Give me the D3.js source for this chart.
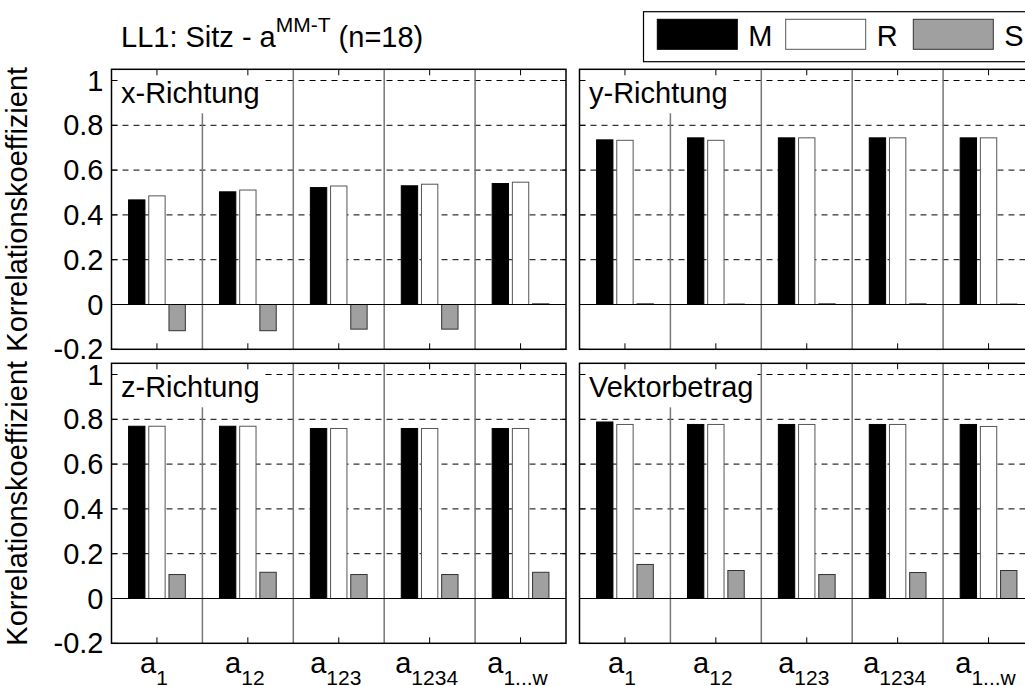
<!DOCTYPE html>
<html>
<head>
<meta charset="utf-8">
<script src="https://cdn.jsdelivr.net/npm/d3@7"></script>
<style>
  html, body { margin: 0; padding: 0; background: #fff; }
  svg { display: block; font-family: "Liberation Sans", Arial, sans-serif; }
</style>
</head>
<body>
<svg id="chart" width="1025" height="686"></svg>
<script>
// Correlation coefficients per direction, for the five acceleration combinations
const categories = ["1", "12", "123", "1234", "1...w"];
const seriesNames = ["M", "R", "S"];
const seriesFill = ["#000000", "#ffffff", "#a0a0a0"];
const seriesStroke = ["#000000", "#555555", "#333333"];
const yTicks = [-0.2, 0, 0.2, 0.4, 0.6, 0.8, 1];
const panelTitles = ["x-Richtung", "y-Richtung", "z-Richtung", "Vektorbetrag"];

const xRichtungM = [0.467, 0.503, 0.522, 0.530, 0.540];
const xRichtungR = [0.485, 0.511, 0.529, 0.537, 0.546];
const xRichtungS = [-0.117, -0.117, -0.110, -0.110, 0.003];

const yRichtungM = [0.735, 0.744, 0.744, 0.744, 0.744];
const yRichtungR = [0.733, 0.733, 0.744, 0.744, 0.744];
const yRichtungS = [0.003, 0.002, 0.003, 0.003, 0.002];

const zRichtungM = [0.769, 0.769, 0.759, 0.759, 0.759];
const zRichtungR = [0.769, 0.769, 0.759, 0.759, 0.759];
const zRichtungS = [0.107, 0.117, 0.107, 0.107, 0.117];

const vektorM = [0.788, 0.777, 0.777, 0.777, 0.777];
const vektorR = [0.777, 0.777, 0.777, 0.777, 0.768];
const vektorS = [0.152, 0.125, 0.107, 0.116, 0.125];

const panelValues = [
  [xRichtungM, xRichtungR, xRichtungS],
  [yRichtungM, yRichtungR, yRichtungS],
  [zRichtungM, zRichtungR, zRichtungS],
  [vektorM, vektorR, vektorS]
];

const svg = d3.select("#chart");
const FONT = 29;
const panelW = 454.5, panelH = 280;
const colX = [111.5, 579.5];
const rowY = [69.3, 363.3];
const tickLen = 6;

svg.append("rect").attr("width", 1025).attr("height", 686).attr("fill", "#fff");

panelValues.forEach((vals, p) => {
  const col = p % 2, row = Math.floor(p / 2);
  const left = colX[col], top = rowY[row];
  const right = left + panelW, bottom = top + panelH;

  const x0 = d3.scaleBand().domain(categories).range([left, right]).padding(0);
  const x1 = d3.scaleBand().domain(seriesNames).range([0, x0.bandwidth()])
    .paddingInner(0.19).paddingOuter(0.845);
  const y = d3.scaleLinear().domain([-0.2, 1.05]).range([bottom, top]);

  const clipId = "clip" + p;
  svg.append("clipPath").attr("id", clipId)
    .append("rect").attr("x", left).attr("y", top).attr("width", panelW).attr("height", panelH);
  const g = svg.append("g").attr("clip-path", `url(#${clipId})`);

  // dashed horizontal grid
  g.selectAll("line.grid").data(yTicks.filter(t => t > 0)).join("line")
    .attr("x1", left).attr("x2", right)
    .attr("y1", d => y(d)).attr("y2", d => y(d))
    .attr("stroke", "#000").attr("stroke-width", 1).attr("stroke-dasharray", "6,5");

  // group separators
  g.selectAll("line.sep").data(categories.slice(1)).join("line")
    .attr("x1", d => x0(d)).attr("x2", d => x0(d))
    .attr("y1", top).attr("y2", bottom)
    .attr("stroke", "#777").attr("stroke-width", 1.5);

  // bars
  seriesNames.forEach((s, si) => {
    g.selectAll(null).data(vals[si]).join("rect")
      .attr("x", (d, i) => x0(categories[i]) + x1(s))
      .attr("width", x1.bandwidth())
      .attr("y", d => y(Math.max(0, d)))
      .attr("height", d => Math.abs(y(d) - y(0)))
      .attr("fill", seriesFill[si])
      .attr("stroke", seriesStroke[si]).attr("stroke-width", 1);
  });

  // zero baseline
  g.append("line").attr("x1", left).attr("x2", right)
    .attr("y1", y(0)).attr("y2", y(0)).attr("stroke", "#000").attr("stroke-width", 1.2);

  // panel title with white backing box
  const tg = g.append("g");
  const txt = tg.append("text").attr("x", left + 9.5).attr("y", top + 34)
    .attr("font-size", FONT).attr("fill", "#000").text(panelTitles[p]);
  const bb = txt.node().getBBox();
  tg.insert("rect", "text").attr("x", left).attr("y", top)
    .attr("width", bb.x + bb.width + 4 - left).attr("height", 44).attr("fill", "#fff");

  // ticks (inward) on all four sides
  const ticks = svg.append("g");
  categories.forEach(c => {
    const cx = x0(c) + x0.bandwidth() / 2;
    ticks.append("line").attr("x1", cx).attr("x2", cx).attr("y1", bottom).attr("y2", bottom - tickLen)
      .attr("stroke", "#000");
    ticks.append("line").attr("x1", cx).attr("x2", cx).attr("y1", top).attr("y2", top + tickLen)
      .attr("stroke", "#000");
  });
  yTicks.forEach(t => {
    ticks.append("line").attr("x1", left).attr("x2", left + tickLen).attr("y1", y(t)).attr("y2", y(t))
      .attr("stroke", "#000");
    ticks.append("line").attr("x1", right).attr("x2", right - tickLen).attr("y1", y(t)).attr("y2", y(t))
      .attr("stroke", "#000");
  });

  // frame
  svg.append("rect").attr("x", left).attr("y", top).attr("width", panelW).attr("height", panelH)
    .attr("fill", "none").attr("stroke", "#000").attr("stroke-width", 1.5);

  // y tick labels on the left column
  if (col === 0) {
    svg.append("g").selectAll("text").data(yTicks).join("text")
      .attr("x", left - 8).attr("y", d => y(d)).attr("dy", "0.35em")
      .attr("text-anchor", "end").attr("font-size", FONT)
      .text(d => d3.format("")(+d.toFixed(1)).replace("−", "-"));
    svg.append("text")
      .attr("transform", `translate(27,${(top + bottom) / 2}) rotate(-90)`)
      .attr("text-anchor", "middle").attr("font-size", FONT)
      .text("Korrelationskoeffizient");
  }

  // category labels on the bottom row
  if (row === 1) {
    categories.forEach(c => {
      const cx = x0(c) + x0.bandwidth() / 2;
      const t = svg.append("text").attr("x", cx - 3).attr("y", bottom + 30)
        .attr("text-anchor", "middle").attr("font-size", FONT);
      t.append("tspan").text("a");
      t.append("tspan").attr("font-size", 21).attr("dy", 12).text(c);
    });
  }
});

// figure title
const title = svg.append("text").attr("x", 121).attr("y", 47).attr("font-size", FONT);
title.append("tspan").text("LL1: Sitz - a");
title.append("tspan").attr("font-size", 21).attr("dy", -15).text("MM-T");
title.append("tspan").attr("dy", 15).text(" (n=18)");

// legend
const legend = svg.append("g");
legend.append("rect").attr("x", 643.5).attr("y", 11.7).attr("width", 420).attr("height", 50)
  .attr("fill", "#fff").attr("stroke", "#000").attr("stroke-width", 1.2);
const legendX = [657.3, 785.7, 913.3];
seriesNames.forEach((s, i) => {
  legend.append("rect").attr("x", legendX[i]).attr("y", 19.3).attr("width", 80).attr("height", 30)
    .attr("fill", seriesFill[i]).attr("stroke", seriesStroke[i]).attr("stroke-width", 1);
  legend.append("text").attr("x", legendX[i] + 91).attr("y", 46).attr("font-size", FONT).text(s);
});
</script>
</body>
</html>
